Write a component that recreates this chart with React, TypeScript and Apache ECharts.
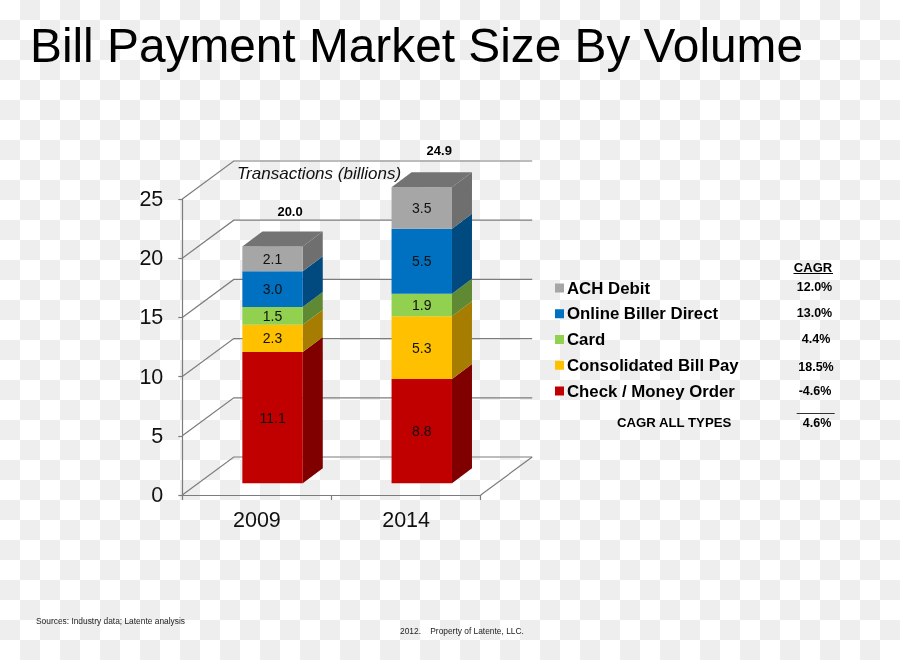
import React, { useEffect, useRef } from "react";
import * as echarts from "echarts";

const categories = ["2009", "2014"];
const checkMoney = [11.1, 8.8];
const consolidated = [2.3, 5.3];
const card = [1.5, 1.9];
const onlineBiller = [3.0, 5.5];
const achDebit = [2.1, 3.5];
const totals = [20.0, 24.9];
const gridTicks = [0, 5, 10, 15, 20, 25];
const seriesNames = ["Check / Money Order", "Consolidated Bill Pay", "Card", "Online Biller Direct", "ACH Debit"];
const seriesValues = [checkMoney, consolidated, card, onlineBiller, achDebit];
const frontColors = ["#C00000", "#FFC000", "#92D050", "#0070C0", "#A6A6A6"];
const sideColors = ["#800000", "#A67D00", "#5F8A33", "#004A80", "#6F6F6F"];
const cagrValues = ["12.0%", "13.0%", "4.4%", "18.5%", "-4.6%"];
const cagrAll = "4.6%";

const FONT = '"Liberation Sans", Arial, sans-serif';
const LINE = "#7c7c7c";
const WALL_DX = 51.5;
const WALL_DY = 38;
const BAR_DX = 20;
const BAR_DY = 15;
const BAR_LIFT = 11.7;
const BAR_SHIFT = 0.105;
const BAR_HALF = 0.2025;
const TOTAL_SHIFT = 17.5;
const TOTAL_LIFT = [46.5, 50];

function renderWall(params: any, api: any) {
  const cs = params.coordSys;
  const v = api.value(0);
  const y = api.coord([0, v])[1];
  const l = cs.x;
  const r = cs.x + cs.width;
  const ls = { stroke: LINE, lineWidth: 1.2, fill: "none" };
  const children: any[] = [
    { type: "polyline", shape: { points: [[l, y], [l + WALL_DX, y - WALL_DY], [r + WALL_DX, y - WALL_DY]] }, style: ls },
  ];
  if (v === 0) {
    children.push({ type: "line", shape: { x1: r, y1: y, x2: r + WALL_DX, y2: y - WALL_DY }, style: ls });
  }
  return { type: "group", children };
}

function renderSegment(si: number) {
  return (_params: any, api: any) => {
    const cat = api.value(0);
    const base = api.value(1);
    const top = api.value(2);
    const band = api.size([1, 0])[0];
    const p0 = api.coord([cat, base]);
    const p1 = api.coord([cat, top]);
    const cx = p0[0] + band * BAR_SHIFT;
    const hw = band * BAR_HALF;
    const x0 = cx - hw;
    const x1 = cx + hw;
    const yb = p0[1] - BAR_LIFT;
    const yt = p1[1] - BAR_LIFT;
    const children: any[] = [
      { type: "polygon", shape: { points: [[x1, yb], [x1 + BAR_DX, yb - BAR_DY], [x1 + BAR_DX, yt - BAR_DY], [x1, yt]] }, style: { fill: sideColors[si] } },
      { type: "rect", shape: { x: x0, y: yt, width: x1 - x0, height: yb - yt }, style: { fill: frontColors[si] } },
    ];
    if (si === seriesValues.length - 1) {
      children.push({
        type: "polygon",
        shape: { points: [[x0, yt], [x0 + BAR_DX, yt - BAR_DY], [x1 + BAR_DX, yt - BAR_DY], [x1, yt]] },
        style: { fill: "#737373" },
      });
    }
    children.push({
      type: "text",
      style: {
        x: cx,
        y: (yb + yt) / 2,
        text: api.value(3).toFixed(1),
        font: `14px ${FONT}`,
        fill: "#111",
        align: "center",
        verticalAlign: "middle",
      },
    });
    return { type: "group", children };
  };
}

function renderTotal(_params: any, api: any) {
  const cat = api.value(0);
  const band = api.size([1, 0])[0];
  const p = api.coord([cat, api.value(1)]);
  return {
    type: "text",
    style: {
      x: p[0] + band * BAR_SHIFT + TOTAL_SHIFT,
      y: p[1] - TOTAL_LIFT[cat],
      text: api.value(1).toFixed(1),
      font: `bold 13px ${FONT}`,
      fill: "#000",
      align: "center",
      verticalAlign: "middle",
    },
  };
}

function txt(text: string, x: number, y: number, font: string, align = "left", fill = "#000") {
  return {
    type: "text",
    x,
    y,
    style: { text, font: `${font} ${FONT}`, fill, align, verticalAlign: "middle" },
  };
}

function buildOption() {
  const cumulative = categories.map(() => 0);
  const stackSeries = seriesNames.map((name, si) => ({
    type: "custom",
    name,
    coordinateSystem: "cartesian2d",
    itemStyle: { color: frontColors[si] },
    renderItem: renderSegment(si),
    z: 3,
    data: categories.map((_, ci) => {
      const base = cumulative[ci];
      cumulative[ci] = base + seriesValues[si][ci];
      return [ci, base, cumulative[ci], seriesValues[si][ci]];
    }),
  }));
  const cagrYs = [287, 313, 339, 367, 391];
  const cagrXs = [814.5, 814.5, 816, 816, 815];
  return {
    animation: false,
    backgroundColor: "transparent",
    textStyle: { fontFamily: FONT },
    grid: { left: 182.3, right: 900 - 480.7, top: 199, bottom: 660 - 495 },
    xAxis: {
      type: "category",
      data: categories,
      axisLine: { lineStyle: { color: LINE, width: 1.2 } },
      axisTick: { show: true, length: 5, lineStyle: { color: LINE, width: 1.2 } },
      axisLabel: { color: "#111", fontSize: 21.5, fontFamily: FONT, margin: 14 },
      splitLine: { show: false },
    },
    yAxis: {
      type: "value",
      min: 0,
      max: 25,
      interval: 5,
      axisLine: { show: true, lineStyle: { color: LINE, width: 1.2 } },
      axisTick: { show: true, length: 4, lineStyle: { color: LINE, width: 1.2 } },
      axisLabel: { color: "#111", fontSize: 21.5, fontFamily: FONT, margin: 19 },
      splitLine: { show: false },
    },
    legend: {
      data: [...seriesNames].reverse(),
      orient: "vertical",
      left: 555,
      top: 279.5,
      icon: "rect",
      itemWidth: 9,
      itemHeight: 9,
      itemGap: 8.75,
      selectedMode: false,
      padding: 0,
      textStyle: { color: "#000", fontSize: 16.8, fontWeight: "bold", fontFamily: FONT, lineHeight: 16, padding: [0, 0, 0, -2] },
    },
    series: [
      {
        type: "custom",
        name: "wall",
        coordinateSystem: "cartesian2d",
        renderItem: renderWall,
        z: 1,
        encode: { y: 0 },
        data: gridTicks.map((v) => [v]),
      },
      ...stackSeries,
      {
        type: "custom",
        name: "total",
        coordinateSystem: "cartesian2d",
        renderItem: renderTotal,
        z: 4,
        data: categories.map((_, ci) => [ci, totals[ci]]),
      },
    ],
    graphic: [
      txt("Bill Payment Market Size By Volume", 30, 45, "47.8px"),
      txt("Transactions (billions)", 237, 173, "italic 17px", "left", "#111"),
      txt("CAGR", 813, 267, "bold 13px", "center"),
      { type: "line", shape: { x1: 793.5, y1: 273.5, x2: 833, y2: 273.5 }, style: { stroke: "#000", lineWidth: 1 } },
      ...cagrValues.map((v, i) => txt(v, cagrXs[i], cagrYs[i], "bold 12.5px", "center")),
      { type: "line", shape: { x1: 796.7, y1: 413.5, x2: 834.7, y2: 413.5 }, style: { stroke: "#333", lineWidth: 1 } },
      txt(cagrAll, 817, 423, "bold 12.5px", "center"),
      txt("CAGR ALL TYPES", 617, 422, "bold 13.2px"),
      txt("Sources: Industry data; Latente analysis", 36, 621, "8.4px", "left", "#222"),
      txt("2012.    Property of Latente, LLC.", 400, 631, "8.4px", "left", "#222"),
    ],
  };
}

export default function App() {
  const ref = useRef<HTMLDivElement>(null);
  useEffect(() => {
    const chart = echarts.init(ref.current as HTMLDivElement, undefined, { renderer: "svg" });
    chart.setOption(buildOption() as any);
    return () => chart.dispose();
  }, []);
  return (
    <div
      ref={ref}
      style={{
        position: "fixed",
        left: 0,
        top: 0,
        width: 900,
        height: 660,
        background: "repeating-conic-gradient(#eeeeee 0 25%, #ffffff 0 50%) 0 0 / 40px 40px",
      }}
    />
  );
}
